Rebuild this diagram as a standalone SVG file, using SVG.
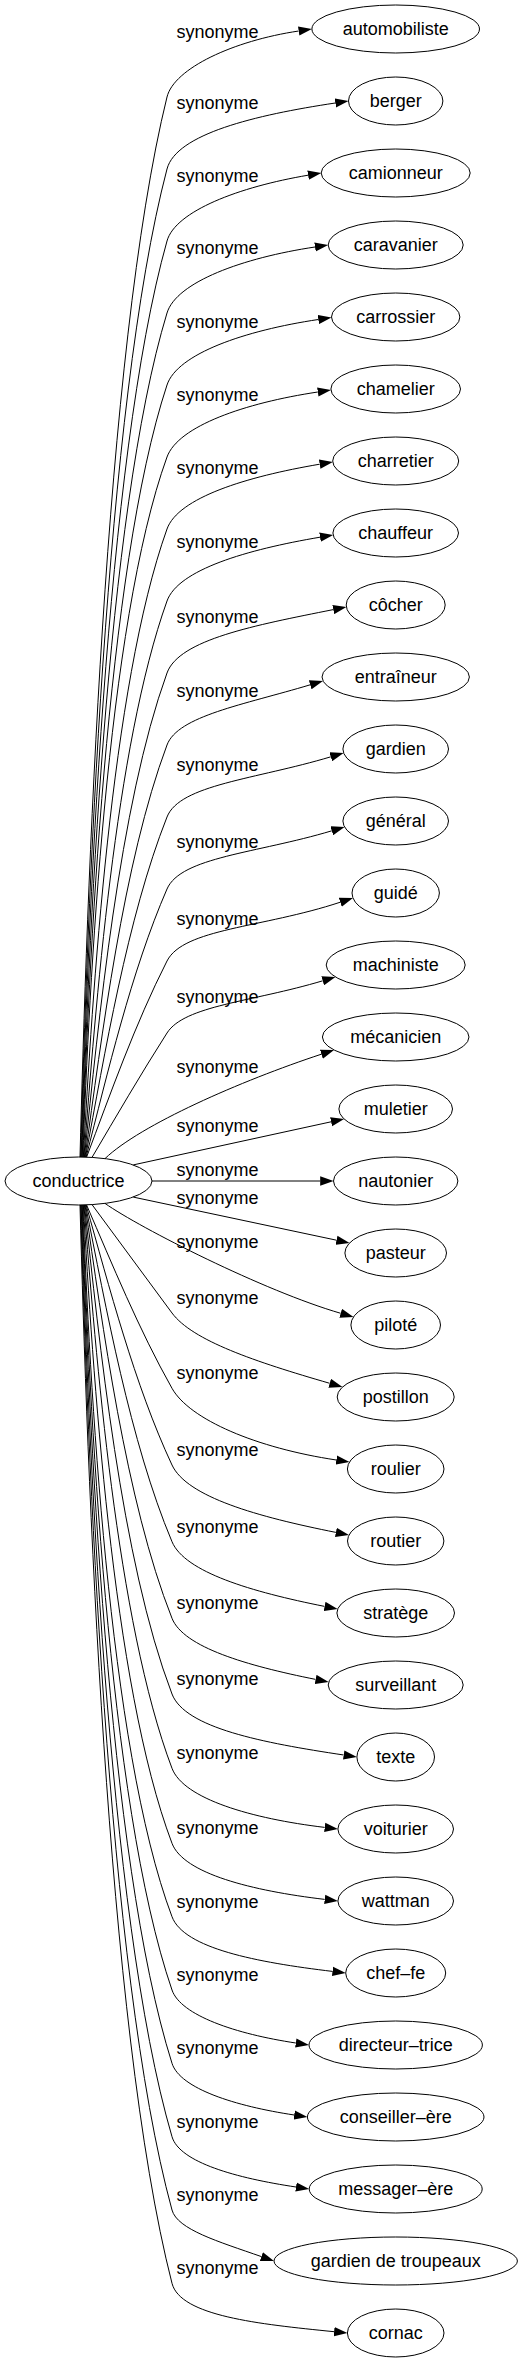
<svg xmlns="http://www.w3.org/2000/svg" width="532" height="2363" viewBox="0 0 532 2363">
<style>
text{font-family:"Liberation Sans",Arial,sans-serif;font-size:18px;fill:#000}
.n text{text-anchor:middle}
.n ellipse{fill:none;stroke:#000;stroke-width:1}
.e path{fill:none;stroke:#000;stroke-width:1;marker-end:url(#ah)}
.e text{text-anchor:middle}
</style>
<defs>
<marker id="ah" viewBox="0 0 14 10" markerWidth="14" markerHeight="10" refX="0" refY="5" orient="auto" markerUnits="userSpaceOnUse"><path d="M0,0.33 L13.33,5 L0,9.67 z" fill="#000"/></marker>
</defs>
<rect width="532" height="2363" fill="#fff"/>
<g id="edges" class="e">
<path d="M80,1157 C86.7,902.6 104.4,351.4 167,97 C174.1,68.4 233.1,40.8 298.7,31"/><text x="217.5" y="37.7">synonyme</text>
<path d="M80.6,1157 C87.2,919.9 104.8,406.1 167,169 C176.2,134 254.8,115.1 335.3,103"/><text x="217.5" y="109.3">synonyme</text>
<path d="M81.1,1157 C87.7,937.2 105.2,460.8 167,241 C175.4,211.1 239,186.9 308.1,175.2"/><text x="217.5" y="182">synonyme</text>
<path d="M81.7,1157 C88.2,954.4 105.5,515.6 167,313 C176.4,282 242.9,257.8 315,247"/><text x="217.5" y="254.3">synonyme</text>
<path d="M82.2,1157 C88.7,971.7 105.9,570.3 167,385 C177.3,353.7 244.9,330.5 318.3,319.5"/><text x="217.5" y="327.7">synonyme</text>
<path d="M82.8,1157 C89.2,989 106.3,625 167,457 C178.2,426.1 244.7,403 317.8,392"/><text x="217.5" y="401">synonyme</text>
<path d="M83.3,1157 C92.3,999.2 110.6,686.7 167,529 C178.2,497.7 246.1,476.7 319.7,464.2"/><text x="217.5" y="474.3">synonyme</text>
<path d="M83.9,1157 C95.4,1011.1 114.8,746.8 167,601 C178.2,569.7 246.5,549.7 320,537.2"/><text x="217.5" y="547.7">synonyme</text>
<path d="M84.4,1157 C98.4,1024.6 119,805.4 167,673 C179.1,639.5 254.8,625.3 333.3,609.6"/><text x="217.5" y="622.7">synonyme</text>
<path d="M85,1157 C101.4,1039.7 123.1,862.3 167,745 C177.9,715.9 243.3,704.9 310.2,684.8"/><text x="217.5" y="697">synonyme</text>
<path d="M85.5,1157 C104.3,1056.4 127.2,917.6 167,817 C179.8,784.5 255.6,779.4 330.8,756.8"/><text x="217.5" y="771">synonyme</text>
<path d="M86.1,1157 C107.2,1074.7 131.2,971.3 167,889 C181,856.9 256.4,853.4 331.8,830.8"/><text x="217.5" y="847.7">synonyme</text>
<path d="M86.6,1157.1 C110.1,1094.6 135.3,1023.4 167,961 C183.6,928.4 262.1,928 340.3,902.2"/><text x="217.5" y="925.3">synonyme</text>
<path d="M92,1157.4 C116.2,1116.4 140.8,1074 167,1033 C184.6,1005.4 251.9,1002 322.7,980.8"/><text x="217.5" y="1002.7">synonyme</text>
<path d="M105,1158.6 C140,1125 240.7,1080.8 321.4,1054.2"/><text x="217.5" y="1072.7">synonyme</text>
<path d="M133.3,1164.9 L331.1,1121.8"/><text x="217.5" y="1131.7">synonyme</text>
<path d="M152,1181 L320.2,1181"/><text x="217.5" y="1176">synonyme</text>
<path d="M133.3,1197.1 L336.5,1240.2"/><text x="217.5" y="1203.7">synonyme</text>
<path d="M105,1203.4 C140,1228 263.9,1291 340.7,1313.3"/><text x="217.5" y="1247.7">synonyme</text>
<path d="M92,1204.6 C118.7,1240.7 145.3,1276.9 172,1313 C192.5,1340.7 255.1,1361.7 329.7,1383.3"/><text x="217.5" y="1304">synonyme</text>
<path d="M86.6,1205 C112,1263.7 138.9,1329.6 172,1388.3 C189.6,1419.6 256.5,1448 336.3,1460"/><text x="217.5" y="1379.3">synonyme</text>
<path d="M86.1,1205 C108.8,1285.2 134.5,1384.8 172,1465 C187,1497.1 257.7,1516.8 335.9,1532.4"/><text x="217.5" y="1456">synonyme</text>
<path d="M85.5,1205 C105.6,1304.8 130,1441.9 172,1541.7 C184.8,1572.2 251.4,1591.8 324.6,1606.4"/><text x="217.5" y="1532.7">synonyme</text>
<path d="M85,1205 C102.3,1322.7 125.4,1500.7 172,1618.3 C183.5,1647.3 246.8,1665.6 315.6,1679.4"/><text x="217.5" y="1609.3">synonyme</text>
<path d="M84.4,1205 C99.1,1338.4 120.9,1560.5 172,1694 C185,1728 262.6,1742.8 343.7,1755"/><text x="217.5" y="1685">synonyme</text>
<path d="M83.9,1205 C95.8,1352.2 116.3,1621.2 172,1768.3 C183.6,1798.9 251.5,1818.6 324.7,1827.4"/><text x="217.5" y="1759.3">synonyme</text>
<path d="M83.3,1205 C92.5,1364.3 111.6,1683.9 172,1843.3 C183.5,1873.7 252,1890.7 324.7,1899.4"/><text x="217.5" y="1834.3">synonyme</text>
<path d="M82.8,1205 C89.6,1375.8 107.7,1745.9 172,1916.7 C183.9,1948.4 256.7,1962.3 332.5,1971.4"/><text x="217.5" y="1907.7">synonyme</text>
<path d="M82.2,1205 C89.1,1393.4 107.3,1801.6 172,1990 C180.7,2015.4 235.9,2034 295.8,2043"/><text x="217.5" y="1981">synonyme</text>
<path d="M81.7,1205 C88.6,1411 106.9,1857.3 172,2063.3 C180,2088.6 235.2,2106.1 294.2,2115"/><text x="217.5" y="2054.3">synonyme</text>
<path d="M81.1,1205 C88.1,1428.6 106.6,1913.1 172,2136.7 C179.5,2162.4 236.5,2178.1 296,2187"/><text x="217.5" y="2127.7">synonyme</text>
<path d="M80.6,1205 C87.6,1446.2 106.2,1968.8 172,2210 C177.3,2229.5 218.5,2241.6 261.4,2256.6"/><text x="217.5" y="2201">synonyme</text>
<path d="M80,1205 C87.1,1463.8 105.8,2024.5 172,2283.3 C180.4,2316 258.4,2324.1 334.1,2331.7"/><text x="217.5" y="2274.3">synonyme</text>
</g>
<g id="conductrice" class="n"><ellipse cx="78.5" cy="1181" rx="73.5" ry="24"/><text x="78.5" y="1187">conductrice</text></g>
<g id="automobiliste" class="n"><ellipse cx="395.7" cy="29" rx="83.8" ry="24"/><text x="395.7" y="35">automobiliste</text></g>
<g id="berger" class="n"><ellipse cx="395.7" cy="101" rx="47.2" ry="24"/><text x="395.7" y="107">berger</text></g>
<g id="camionneur" class="n"><ellipse cx="395.7" cy="173" rx="74.5" ry="24"/><text x="395.7" y="179">camionneur</text></g>
<g id="caravanier" class="n"><ellipse cx="395.7" cy="245" rx="67.5" ry="24"/><text x="395.7" y="251">caravanier</text></g>
<g id="carrossier" class="n"><ellipse cx="395.7" cy="317" rx="64.2" ry="24"/><text x="395.7" y="323">carrossier</text></g>
<g id="chamelier" class="n"><ellipse cx="395.7" cy="389" rx="64.8" ry="24"/><text x="395.7" y="395">chamelier</text></g>
<g id="charretier" class="n"><ellipse cx="395.7" cy="461" rx="63" ry="24"/><text x="395.7" y="467">charretier</text></g>
<g id="chauffeur" class="n"><ellipse cx="395.7" cy="533" rx="62.8" ry="24"/><text x="395.7" y="539">chauffeur</text></g>
<g id="cocher" class="n"><ellipse cx="395.7" cy="605" rx="49.5" ry="24"/><text x="395.7" y="611">côcher</text></g>
<g id="entraineur" class="n"><ellipse cx="395.7" cy="677" rx="73.7" ry="24"/><text x="395.7" y="683">entraîneur</text></g>
<g id="gardien" class="n"><ellipse cx="395.7" cy="749" rx="52.8" ry="24"/><text x="395.7" y="755">gardien</text></g>
<g id="general" class="n"><ellipse cx="395.7" cy="821" rx="52.8" ry="24"/><text x="395.7" y="827">général</text></g>
<g id="guide" class="n"><ellipse cx="395.7" cy="893" rx="43.7" ry="24"/><text x="395.7" y="899">guidé</text></g>
<g id="machiniste" class="n"><ellipse cx="395.7" cy="965" rx="69.5" ry="24"/><text x="395.7" y="971">machiniste</text></g>
<g id="mecanicien" class="n"><ellipse cx="395.7" cy="1037" rx="73.3" ry="24"/><text x="395.7" y="1043">mécanicien</text></g>
<g id="muletier" class="n"><ellipse cx="395.7" cy="1109" rx="56.8" ry="24"/><text x="395.7" y="1115">muletier</text></g>
<g id="nautonier" class="n"><ellipse cx="395.7" cy="1181" rx="62.2" ry="24"/><text x="395.7" y="1187">nautonier</text></g>
<g id="pasteur" class="n"><ellipse cx="395.7" cy="1253" rx="50.8" ry="24"/><text x="395.7" y="1259">pasteur</text></g>
<g id="pilote" class="n"><ellipse cx="395.7" cy="1325" rx="44.8" ry="24"/><text x="395.7" y="1331">piloté</text></g>
<g id="postillon" class="n"><ellipse cx="395.7" cy="1397" rx="58.5" ry="24"/><text x="395.7" y="1403">postillon</text></g>
<g id="roulier" class="n"><ellipse cx="395.7" cy="1469" rx="48.3" ry="24"/><text x="395.7" y="1475">roulier</text></g>
<g id="routier" class="n"><ellipse cx="395.7" cy="1541" rx="48.2" ry="24"/><text x="395.7" y="1547">routier</text></g>
<g id="stratege" class="n"><ellipse cx="395.7" cy="1613" rx="58.8" ry="24"/><text x="395.7" y="1619">stratège</text></g>
<g id="surveillant" class="n"><ellipse cx="395.7" cy="1685" rx="67.5" ry="24"/><text x="395.7" y="1691">surveillant</text></g>
<g id="texte" class="n"><ellipse cx="395.7" cy="1757" rx="38.8" ry="24"/><text x="395.7" y="1763">texte</text></g>
<g id="voiturier" class="n"><ellipse cx="395.7" cy="1829" rx="57.8" ry="24"/><text x="395.7" y="1835">voiturier</text></g>
<g id="wattman" class="n"><ellipse cx="395.7" cy="1901" rx="57.8" ry="24"/><text x="395.7" y="1907">wattman</text></g>
<g id="chef-fe" class="n"><ellipse cx="395.7" cy="1973" rx="50" ry="24"/><text x="395.7" y="1979">chef–fe</text></g>
<g id="directeur-trice" class="n"><ellipse cx="395.7" cy="2045" rx="86.7" ry="24"/><text x="395.7" y="2051">directeur–trice</text></g>
<g id="conseiller-ere" class="n"><ellipse cx="395.7" cy="2117" rx="88.3" ry="24"/><text x="395.7" y="2123">conseiller–ère</text></g>
<g id="messager-ere" class="n"><ellipse cx="395.7" cy="2189" rx="86.5" ry="24"/><text x="395.7" y="2195">messager–ère</text></g>
<g id="gardien-de-troupeaux" class="n"><ellipse cx="395.7" cy="2261" rx="121.7" ry="24"/><text x="395.7" y="2267">gardien de troupeaux</text></g>
<g id="cornac" class="n"><ellipse cx="395.7" cy="2333" rx="48.3" ry="24"/><text x="395.7" y="2339">cornac</text></g>
</svg>
